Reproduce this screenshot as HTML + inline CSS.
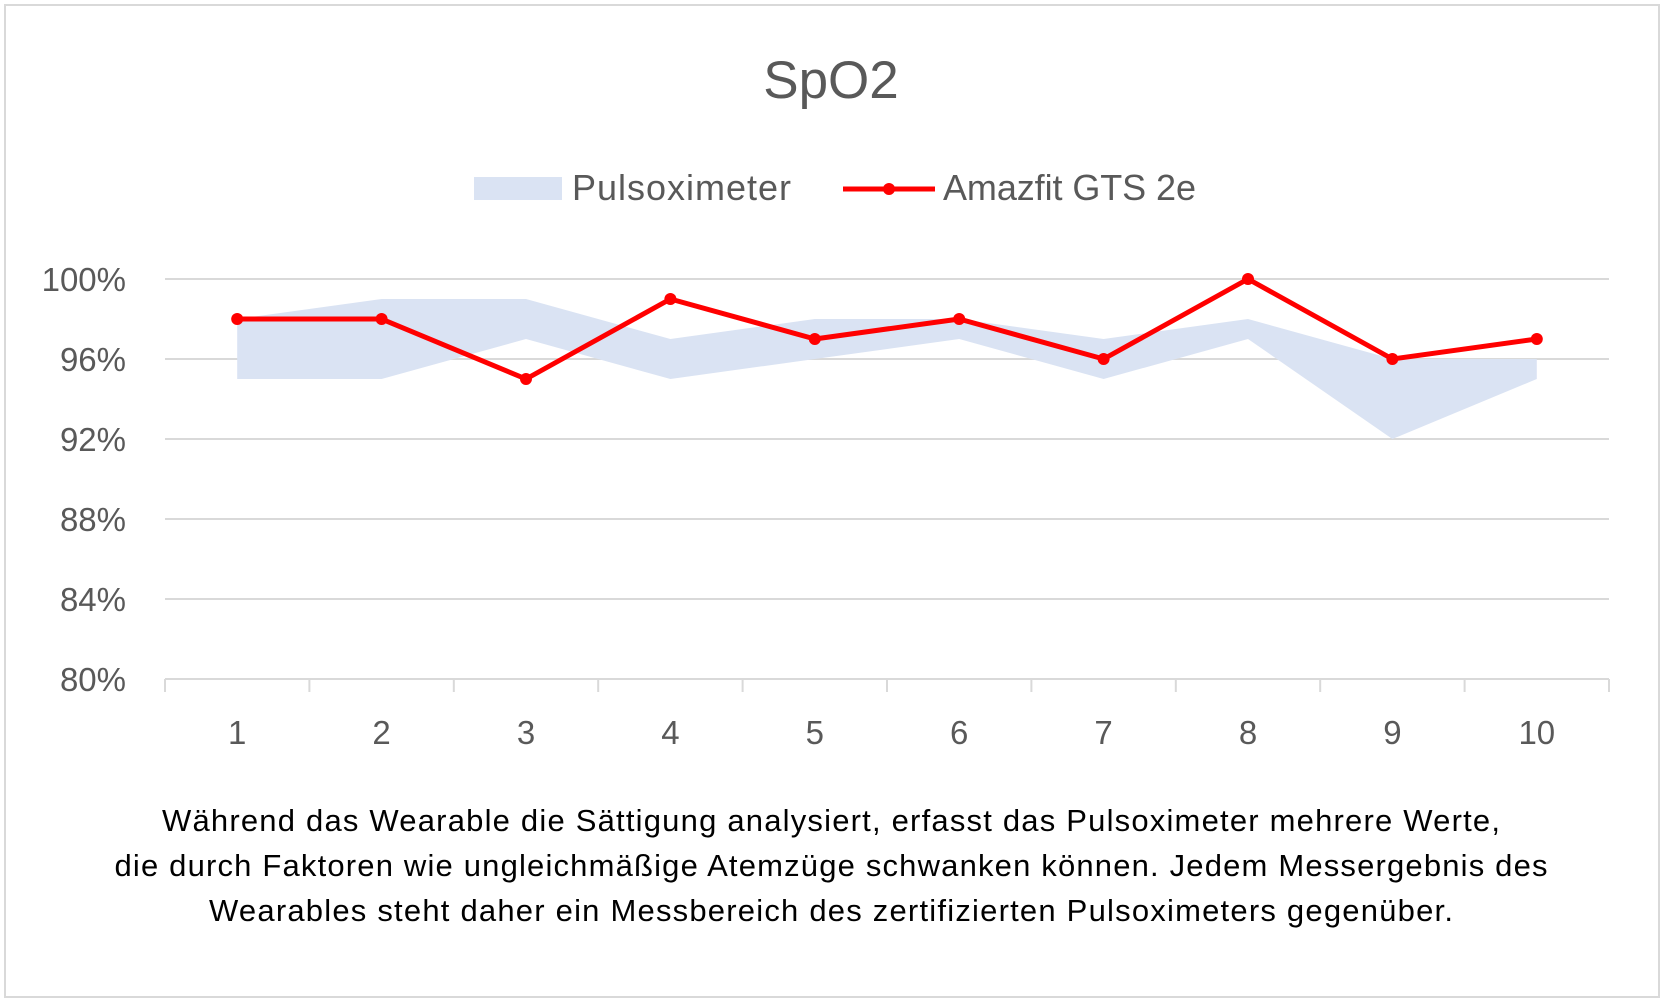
<!DOCTYPE html>
<html><head><meta charset="utf-8"><style>
body{margin:0;background:#fff;font-family:"Liberation Sans",sans-serif}
svg{display:block}
</style></head><body>
<svg id="c" width="1663" height="1003">
<rect x="5" y="5" width="1654" height="992" fill="#fff" stroke="#d9d9d9" stroke-width="2"/>
<text x="831" y="98" text-anchor="middle" font-size="53" fill="#595959">SpO2</text>
<g>
<rect x="474" y="177" width="88" height="23" fill="#dae3f3"/>
<text x="572" y="200" font-size="36" fill="#595959" textLength="219">Pulsoximeter</text>
<line x1="843" y1="189" x2="935" y2="189" stroke="#ff0000" stroke-width="5"/>
<circle cx="889" cy="189" r="6" fill="#ff0000"/>
<text x="943" y="200" font-size="36" fill="#595959" textLength="253">Amazfit GTS 2e</text>
</g>
<g id="plot"></g>
<g font-size="31" fill="#000" text-anchor="middle">
<text x="831" y="831" textLength="1338">Während das Wearable die Sättigung analysiert, erfasst das Pulsoximeter mehrere Werte,</text>
<text x="831" y="876" textLength="1433">die durch Faktoren wie ungleichmäßige Atemzüge schwanken können. Jedem Messergebnis des</text>
<text x="831" y="921" textLength="1244">Wearables steht daher ein Messbereich des zertifizierten Pulsoximeters gegenüber.</text>
</g>
</svg>
<script>
const categories=["1","2","3","4","5","6","7","8","9","10"];
const amazfit=[98,98,95,99,97,98,96,100,96,97];
const pulsLow=[95,95,97,95,96,97,95,97,92,95];
const pulsHigh=[98,99,99,97,98,98,97,98,96,96];
const yTicks=[80,84,88,92,96,100];
const yTickLabels=["80%","84%","88%","92%","96%","100%"];
const NS="http://www.w3.org/2000/svg";
const L=165,R=1609,T=279,B=679,yMin=80,yMax=100;
const bw=(R-L)/categories.length;
const x=i=>L+bw*(i+0.5);
const y=v=>B-(v-yMin)/(yMax-yMin)*(B-T);
const g=document.getElementById('plot');
function mk(t,a){const e=document.createElementNS(NS,t);for(const k in a)e.setAttribute(k,a[k]);g.appendChild(e);return e;}
yTicks.forEach((v,i)=>{
 const ln=mk('line',{x1:L,x2:R,y1:y(v),y2:y(v),stroke:'#d9d9d9','stroke-width':2});
 
 
 const t=mk('text',{x:126,y:y(v)+12,'text-anchor':'end','font-size':33,fill:'#595959'});
 t.textContent=yTickLabels[i];
 
 
});
for(let i=0;i<=categories.length;i++){
 const tk=mk('line',{x1:L+bw*i,x2:L+bw*i,y1:B,y2:B+13,stroke:'#d9d9d9','stroke-width':2});
 
 
}
categories.forEach((c,i)=>{
 const t=mk('text',{x:x(i),y:744,'text-anchor':'middle','font-size':33,fill:'#595959'});
 t.textContent=c;
 
 
});
let pts=categories.map((c,i)=>x(i)+','+y(pulsHigh[i]));
for(let i=categories.length-1;i>=0;i--)pts.push(x(i)+','+y(pulsLow[i]));
const band=mk('polygon',{points:pts.join(' '),fill:'#dae3f3'});


const line=mk('polyline',{points:amazfit.map((v,i)=>x(i)+','+y(v)).join(' '),fill:'none',stroke:'#ff0000','stroke-width':5,'stroke-linejoin':'round'});


amazfit.forEach((v,i)=>{
 const p=mk('circle',{cx:x(i),cy:y(v),r:6,fill:'#ff0000'});
 
 
});
</script>
</body></html>
